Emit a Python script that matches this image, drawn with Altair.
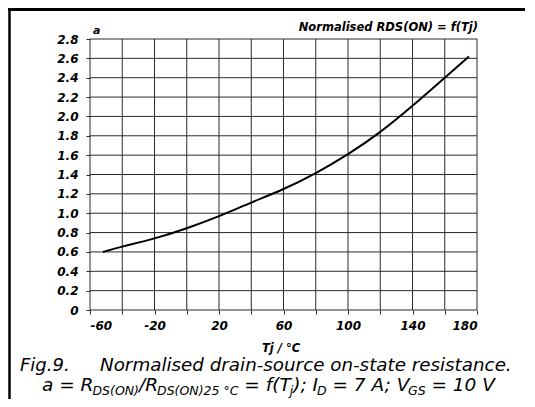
import altair as alt
import pandas as pd

# ---- data ----
tj = [-52, -40, -20, 0, 20, 40, 60, 80, 100, 120, 140, 160, 175]
a_vals = [0.60, 0.655, 0.74, 0.845, 0.97, 1.11, 1.25, 1.415, 1.61, 1.84, 2.11, 2.40, 2.62]
x_ticks = [-60, -40, -20, 0, 20, 40, 60, 80, 100, 120, 140, 160, 180]
x_labels = [-60, -20, 20, 60, 100, 140, 180]
y_ticks = [0, 0.2, 0.4, 0.6, 0.8, 1.0, 1.2, 1.4, 1.6, 1.8, 2.0, 2.2, 2.4, 2.6, 2.8]

title_text = "Normalised RDS(ON) = f(Tj)"
y_title = "a"
x_title = "Tj / °C"
caption1_a = "Fig.9."
caption1_b = "Normalised drain-source on-state resistance."
caption2 = [("a = R", False), ("DS(ON)", True), ("/R", False), ("DS(ON)25 °C", True),
            (" = f(T", False), ("j", True), ("); I", False), ("D", True),
            (" = 7 A; V", False), ("GS", True), (" = 10 V", False)]

W, H = 387, 271
FONT = "DejaVu Sans"
GRID = "#2a2a2a"

# approximate DejaVu Sans advance widths (em) for laying out subscripts
em = {' ': .318, '=': .838, 'a': .613, 'R': .695, 'D': .770, 'S': .635, '(': .390, ')': .390,
      'O': .787, 'N': .748, '/': .337, '2': .636, '5': .636, '°': .500, 'C': .698, 'f': .352,
      'T': .611, 'j': .278, ';': .337, 'I': .295, '7': .636, 'A': .684, 'V': .684, 'G': .775,
      '1': .636, '0': .636}
MAIN, SUB = 18.5, 12.5

label_x = "indexof([" + ",".join(str(v) for v in x_labels) + "], datum.value) >= 0 ? toString(datum.value) : ''"

xscale = alt.Scale(domain=[-60, 180], nice=False)
yscale = alt.Scale(domain=[0, 2.8], nice=False)
xaxis = alt.Axis(values=x_ticks, title=None, grid=False, domain=False,
                 labelExpr=label_x, tickSize=4, labelPadding=6)
yaxis = alt.Axis(values=y_ticks, title=None, grid=False, domain=False,
                 labelExpr="datum.value == 0 ? '0' : format(datum.value, '.1f')",
                 tickSize=4, labelPadding=8)

df = pd.DataFrame({"Tj": tj, "a": a_vals})

vgrid = alt.Chart(pd.DataFrame({"Tj": x_ticks})).mark_rule(color=GRID, strokeWidth=1).encode(
    x=alt.X("Tj:Q", scale=xscale, axis=xaxis))
hgrid = alt.Chart(pd.DataFrame({"a": y_ticks})).mark_rule(color=GRID, strokeWidth=1).encode(
    y=alt.Y("a:Q", scale=yscale, axis=yaxis))

curve = alt.Chart(df).mark_line(color="black", strokeWidth=2, interpolate="natural").encode(
    x=alt.X("Tj:Q", scale=xscale, axis=xaxis),
    y=alt.Y("a:Q", scale=yscale, axis=yaxis),
)

def txt(text, x, y, size, align="left", bold=True, italic=True):
    return alt.Chart(pd.DataFrame({"t": [text]})).mark_text(
        align=align, baseline="alphabetic", font=FONT, fontSize=size,
        fontWeight="bold" if bold else "normal",
        fontStyle="italic" if italic else "normal", color="black"
    ).encode(text="t:N", x=alt.value(x), y=alt.value(y))

layers = [hgrid, vgrid, curve]
layers.append(txt(title_text, 388, -8, 11.5, align="right"))
layers.append(txt(y_title, 3, -5, 11))
layers.append(txt(x_title, 191, 313, 11.5, align="center"))
layers.append(txt(caption1_a, -70, 332, 18, bold=False))
layers.append(txt(caption1_b, 10, 332, 18.3, bold=False))

# caption line 2 with subscripts (SVG strips leading spaces, so advance past them)
x0 = -48.0
prev_sub = None
for t, sub in caption2:
    size = SUB if sub else MAIN
    lead = len(t) - len(t.lstrip(' '))
    x0 += lead * em[' '] * size
    body = t.lstrip(' ')
    if prev_sub is False and sub:
        x0 -= 1.0   # tuck subscript under the italic letter
    layers.append(txt(body, x0, 356 if sub else 352, size, bold=False))
    x0 += sum(em.get(c, .6) for c in body) * size
    prev_sub = sub

top_border = alt.Chart(pd.DataFrame({"v": [0]})).mark_rule(color="black", strokeWidth=3).encode(
    x=alt.value(-82), x2=alt.value(445), y=alt.value(-29.5))
left_border = alt.Chart(pd.DataFrame({"v": [0]})).mark_rule(color="black", strokeWidth=2.5).encode(
    x=alt.value(-80.5), y=alt.value(-31), y2=alt.value(360))
layers += [top_border, left_border]

chart = alt.layer(*layers).properties(
    width=W, height=H,
    autosize=alt.AutoSizeParams(type="none"),
    padding={"left": 82, "top": 31, "right": 48, "bottom": 89},
    background="white",
).configure_view(stroke=None).configure_axis(
    tickColor=GRID, tickWidth=1,
    labelFont=FONT, labelFontSize=12, labelFontWeight="bold", labelFontStyle="italic",
    labelColor="black",
)

chart.save("out.html", embed_options={"renderer": "svg", "actions": False})
